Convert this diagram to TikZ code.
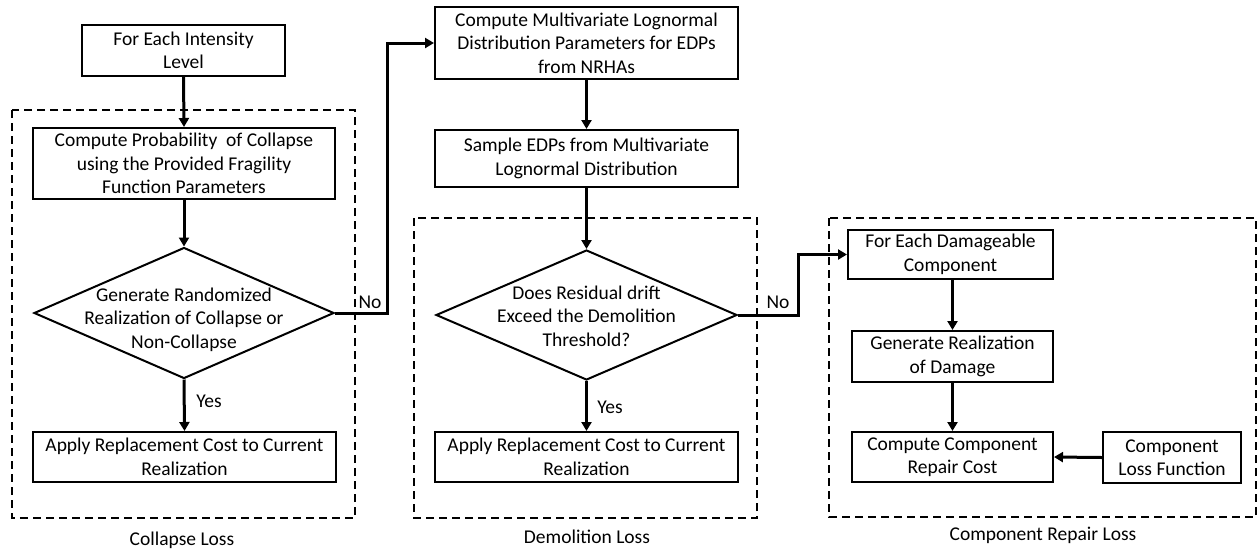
\documentclass[tikz,border=0pt]{standalone}
\usepackage{fontspec}
\setmainfont{Carlito}
\usetikzlibrary{arrows.meta,shapes.geometric}

\newcommand{\chartfont}{\fontsize{19.5}{23.5}\selectfont}

\tikzset{
  x=1pt, y=-1pt,
  every node/.style={font=\chartfont},
  stepbox/.style={draw, line width=2pt, align=center, inner sep=0pt, anchor=center},
  decision/.style={draw, diamond, line width=2pt, inner sep=0pt, aspect=2.3},
  flow/.style={line width=3pt, -{Triangle[length=9pt,width=10pt]}},
  frame/.style={line width=2.2pt, dash pattern=on 8pt off 5pt},
  tag/.style={inner sep=0pt}
}

\begin{document}
\begin{tikzpicture}
\useasboundingbox (0,0) rectangle (1258,550);

% group frames
\draw[frame] (12,110) rectangle (355,518);
\draw[frame] (414,218) rectangle (757,518);
\draw[frame] (829,218) rectangle (1256,517);
\node[tag] (lcol) at (182,540) {Collapse Loss};
\node[tag] (ldem) at (587,537) {Demolition Loss};
\node[tag] (lrep) at (1043,535) {Component Repair Loss};

% collapse branch
\node[stepbox, minimum width=203pt, minimum height=51pt] (level) at (183.5,50.5) {For Each Intensity\\Level};
\node[stepbox, minimum width=302pt, minimum height=71pt] (pcol) at (184,163.5) {Compute Probability\ \ of Collapse\\using the Provided Fragility\\Function Parameters};
\node[decision, minimum width=300pt, minimum height=131pt] (dcol) at (184,313) {};
\node[tag] at (184,320) {\chartfont\begin{tabular}{@{}c@{}}Generate Randomized\\Realization of Collapse or\\Non-Collapse\end{tabular}};
\node[stepbox, minimum width=303pt, minimum height=50pt] (rcol) at (184.5,457) {Apply Replacement Cost to Current\\Realization};

% demand branch
\node[stepbox, minimum width=303pt, minimum height=72pt] (mlog) at (586.5,43) {Compute Multivariate Lognormal\\Distribution Parameters for EDPs\\from NRHAs};
\node[stepbox, minimum width=303pt, minimum height=57pt] (samp) at (586.5,158.5) {Sample EDPs from Multivariate\\Lognormal Distribution};
\node[decision, minimum width=301pt, minimum height=130pt] (ddem) at (586.5,315) {};
\node[tag] at (586.5,318) {\chartfont\begin{tabular}{@{}c@{}}Does Residual drift\\Exceed the Demolition\\Threshold?\end{tabular}};
\node[stepbox, minimum width=303pt, minimum height=50pt] (rdem) at (586.5,457) {Apply Replacement Cost to Current\\Realization};

% component repair branch
\node[stepbox, minimum width=205pt, minimum height=49pt] (each) at (950.5,254.5) {For Each Damageable\\Component};
\node[stepbox, minimum width=201pt, minimum height=51pt] (dmg) at (952.5,356.5) {Generate Realization\\of Damage};
\node[stepbox, minimum width=201pt, minimum height=50pt] (cost) at (952.5,457) {Compute Component\\Repair Cost};
\node[stepbox, minimum width=138pt, minimum height=51pt] (lossf) at (1172,457.5) {Component\\Loss Function};

% routing corners
\coordinate (c1) at (387,313);
\coordinate (c2) at (387,43);
\coordinate (c3) at (798,315);
\coordinate (c4) at (798,254.5);

% connectors
\draw[flow] (level.south) -- (pcol.north);
\draw[flow] (pcol.south) -- (dcol.north);
\draw[flow] (dcol.south) -- (rcol.north);
\node[tag] (ycol) at (209,401) {Yes};
\draw[flow] (dcol.east) -- (c1) -- (c2) -- (mlog.west);
\node[tag] (ncol) at (370,302) {No};

\draw[flow] (mlog.south) -- (samp.north);
\draw[flow] (samp.south) -- (ddem.north);
\draw[flow] (ddem.south) -- (rdem.north);
\node[tag] (ydem) at (610,407) {Yes};
\draw[flow] (ddem.east) -- (c3) -- (c4) -- (each.west);
\node[tag] (ndem) at (778,302) {No};

\draw[flow] (each.south -| dmg.north) -- (dmg.north);
\draw[flow] (dmg.south) -- (cost.north);
\draw[flow] (lossf.west) -- (cost.east);
\end{tikzpicture}
\end{document}
